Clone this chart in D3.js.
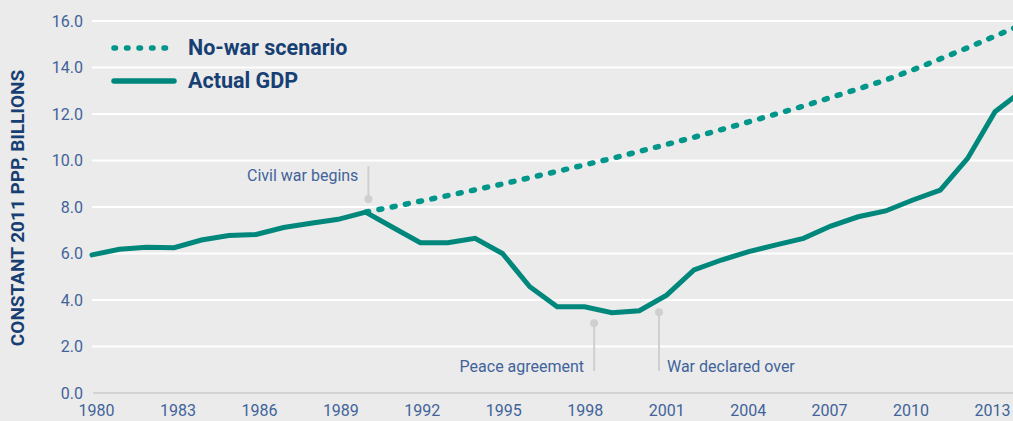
<!DOCTYPE html>
<html>
<head>
<meta charset="utf-8">
<script src="https://cdn.jsdelivr.net/npm/d3@7/dist/d3.min.js"></script>
<style>
  html, body { margin: 0; padding: 0; background: #ebebeb; overflow: hidden; }
  svg { display: block; font-family: Roboto, "Noto Sans", sans-serif; }
</style>
</head>
<body>
<svg id="chart" width="1013" height="421"></svg>
<script>
// GDP, constant 2011 PPP, billions
const years = d3.range(1980, 2015);
const actualGDP = [
  5.94, 6.18, 6.27, 6.25, 6.58, 6.77, 6.82, 7.12, 7.30, 7.47,
  7.78, 7.12, 6.46, 6.46, 6.65, 6.00, 4.57, 3.71, 3.71, 3.45,
  3.54, 4.21, 5.29, 5.72, 6.08, 6.37, 6.65, 7.18, 7.58, 7.83,
  8.30, 8.73, 10.09, 12.10, 13.00
];
const noWarYears = d3.range(1990, 2015);
const noWarGDP = [
  7.78, 8.01, 8.25, 8.49, 8.74, 8.99, 9.26, 9.53, 9.81, 10.09,
  10.39, 10.69, 11.00, 11.33, 11.66, 12.00, 12.34, 12.71, 13.08, 13.46,
  13.90, 14.37, 14.85, 15.35, 15.85
];
const yTicks = [0, 2, 4, 6, 8, 10, 12, 14, 16];
const xTicks = d3.range(1980, 2014, 3);

// Event markers: label, year, marker value, leader end value, label baseline value
const events = [
  { label: "Civil war begins",  year: 1990.1,  value: 8.34, end: 9.76, labelAt: 9.12, side: "left" },
  { label: "Peace agreement",   year: 1998.35, value: 3.00, end: 0.95, labelAt: 0.92, side: "left" },
  { label: "War declared over", year: 2000.72, value: 3.47, end: 0.95, labelAt: 0.92, side: "right" }
];

const svg = d3.select("#chart");
const W = 1013, H = 421;
const x = d3.scaleLinear().domain([1980, 2013]).range([92, 995]);
// year labels sit on a slightly tighter spacing than the data
const xLabel = d3.scaleLinear().domain([1980, 2013]).range([96, 992]);
const y = d3.scaleLinear().domain([0, 16]).range([393, 21]);

const teal = "#00877c";
const tealDot = "#00968a";
const navy = "#173f73";
const slate = "#41639a";

svg.append("rect").attr("width", W).attr("height", H).attr("fill", "#ebebeb");

// Gridlines
svg.append("g").selectAll("line")
  .data(yTicks.filter(d => d > 0))
  .join("line")
  .attr("x1", 92).attr("x2", W)
  .attr("y1", d => y(d)).attr("y2", d => y(d))
  .attr("stroke", "#ffffff").attr("stroke-width", 2);

svg.append("line")
  .attr("x1", 93).attr("x2", W)
  .attr("y1", y(0)).attr("y2", y(0))
  .attr("stroke", "#d3d3d3").attr("stroke-width", 2);

// Y axis labels
const yAxis = d3.axisLeft(y).tickValues(yTicks).tickFormat(d3.format(".1f")).tickSize(0).tickPadding(0);
const gy = svg.append("g").attr("transform", "translate(83,0)").call(yAxis);
gy.select(".domain").remove();
gy.selectAll("text")
  .attr("fill", slate).attr("font-size", 16).attr("font-weight", 400)
  .attr("font-family", "Roboto, sans-serif");

// X axis labels
const xAxis = d3.axisBottom(xLabel).tickValues(xTicks).tickFormat(d3.format("d")).tickSize(0).tickPadding(0);
const gx = svg.append("g").attr("transform", "translate(0,405)").call(xAxis);
gx.select(".domain").remove();
gx.selectAll("text")
  .attr("fill", slate).attr("font-size", 16).attr("font-weight", 400)
  .attr("font-family", "Roboto, sans-serif");

// Y axis title
svg.append("text")
  .attr("transform", "translate(24,208) rotate(-90)")
  .attr("text-anchor", "middle")
  .attr("fill", navy).attr("font-size", 19).attr("font-weight", 700)
  .text("CONSTANT 2011 PPP, BILLIONS");

// Event markers
const ev = svg.append("g").selectAll("g").data(events).join("g");
ev.append("line")
  .attr("x1", d => x(d.year)).attr("x2", d => x(d.year))
  .attr("y1", d => y(d.value)).attr("y2", d => y(d.end))
  .attr("stroke", "#cfcfcf").attr("stroke-width", 2);
ev.append("circle")
  .attr("cx", d => x(d.year)).attr("cy", d => y(d.value)).attr("r", 4)
  .attr("fill", "#cfcfcf");
ev.append("text")
  .attr("x", d => d.side === "left" ? x(d.year) - 10 : x(d.year) + 8)
  .attr("y", d => y(d.labelAt))
  .attr("text-anchor", d => d.side === "left" ? "end" : "start")
  .attr("fill", slate).attr("font-size", 16).attr("font-weight", 400)
  .text(d => d.label);

// Lines
const line = d3.line().x(d => x(d[0])).y(d => y(d[1]));

svg.append("path")
  .datum(noWarYears.map((yr, i) => [yr, noWarGDP[i]]))
  .attr("d", line)
  .attr("fill", "none").attr("stroke", tealDot).attr("stroke-width", 5.5)
  .attr("stroke-linecap", "round").attr("stroke-dasharray", "3 10.5");

svg.append("path")
  .datum(years.map((yr, i) => [yr, actualGDP[i]]))
  .attr("d", line)
  .attr("fill", "none").attr("stroke", teal).attr("stroke-width", 5)
  .attr("stroke-linejoin", "miter").attr("stroke-linecap", "round");

// Legend
const legend = svg.append("g");
legend.append("line")
  .attr("x1", 114).attr("x2", 173).attr("y1", 48).attr("y2", 48)
  .attr("stroke", tealDot).attr("stroke-width", 5.5)
  .attr("stroke-linecap", "round").attr("stroke-dasharray", "1.5 11");
legend.append("text")
  .attr("x", 188).attr("y", 55)
  .attr("fill", navy).attr("font-size", 21.5).attr("font-weight", 700)
  .text("No-war scenario");
legend.append("line")
  .attr("x1", 114).attr("x2", 174).attr("y1", 81).attr("y2", 81)
  .attr("stroke", teal).attr("stroke-width", 5.5).attr("stroke-linecap", "round");
legend.append("text")
  .attr("x", 188).attr("y", 88)
  .attr("fill", navy).attr("font-size", 21.5).attr("font-weight", 700)
  .text("Actual GDP");
</script>
</body>
</html>
